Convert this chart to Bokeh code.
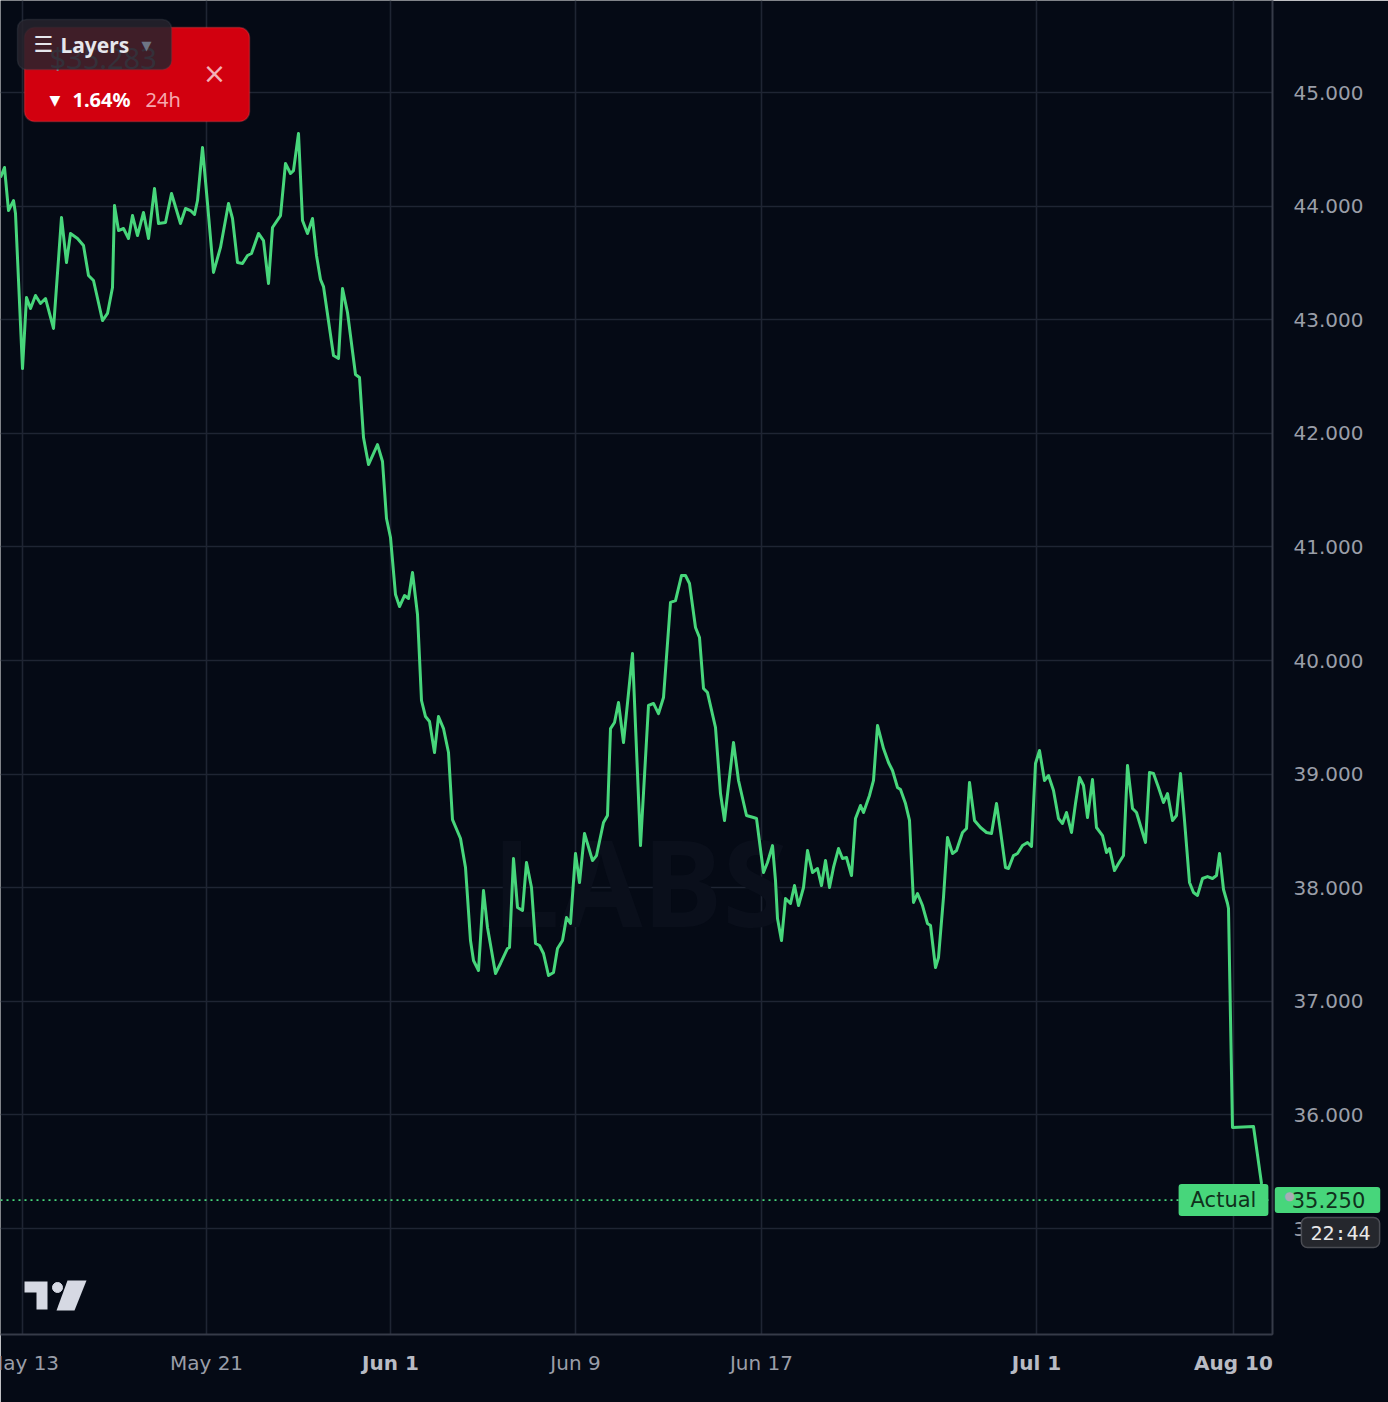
from bokeh.plotting import figure
from bokeh.models import Range1d, FixedTicker, Span, Label, BoxAnnotation
from bokeh.embed import file_html
from bokeh.resources import INLINE

# ---------------- data ----------------
bar = [0, 4, 8, 13, 15, 22, 26, 30, 35, 40, 45, 53, 61, 66, 70, 77, 83, 88, 93, 102,
       107, 112, 114, 118, 123, 128, 132, 137, 143, 148, 154, 158, 165, 171, 177, 180,
       185, 190, 194, 197, 202, 207, 213, 220, 228, 232, 237, 242, 247, 251, 258, 263,
       268, 272, 280, 285, 290, 293, 298, 302, 307, 312, 316, 320, 323, 333, 338, 342,
       347, 355, 359, 363, 368, 377, 382, 386, 390, 395, 399, 404, 408, 412, 417, 421,
       425, 429, 434, 438, 443, 448, 452, 460, 465, 470, 473, 478, 483, 487, 495, 500,
       507, 509, 513, 517, 522, 526, 531, 535, 539, 543, 548, 553, 557, 562, 566, 570,
       575, 579, 584, 592, 596, 603, 607, 610, 614, 618, 623, 632, 640, 648, 653, 658,
       663, 670, 675, 681, 685, 689, 695, 699, 703, 707, 715, 720, 724, 733, 738, 746,
       753, 756, 763, 767, 772, 775, 777, 781, 785, 790, 794, 798, 803, 807, 812, 817,
       821, 825, 829, 833, 838, 842, 846, 851, 855, 860, 863, 869, 873, 877, 883, 888,
       892, 897, 900, 905, 909, 913, 917, 922, 927, 930, 935, 938, 943, 947, 952, 956,
       962, 966, 969, 974, 980, 986, 991, 996, 1000, 1005, 1008, 1013, 1017, 1022, 1027,
       1031, 1035, 1039, 1044, 1048, 1053, 1058, 1062, 1066, 1071, 1075, 1079, 1083,
       1087, 1092, 1096, 1102, 1106, 1109, 1114, 1118, 1123, 1127, 1132, 1136, 1145,
       1149, 1153, 1158, 1163, 1167, 1172, 1176, 1180, 1184, 1189, 1193, 1197, 1202,
       1207, 1212, 1216, 1219, 1223, 1227, 1228, 1232, 1253, 1261, 1264]

price = [44252, 44340, 43961, 44049, 43935, 42570, 43196, 43099, 43213, 43143, 43187,
         42923, 43900, 43504, 43759, 43715, 43653, 43389, 43345, 42993, 43055, 43284,
         44005, 43785, 43803, 43715, 43917, 43741, 43944, 43715, 44155, 43847, 43856,
         44111, 43935, 43847, 43979, 43961, 43926, 44049, 44516, 44023, 43416, 43636,
         44023, 43891, 43504, 43495, 43565, 43583, 43759, 43697, 43319, 43812, 43917,
         44375, 44287, 44313, 44639, 43873, 43759, 43891, 43565, 43354, 43292, 42685,
         42659, 43275, 43063, 42518, 42491, 41963, 41725, 41901, 41752, 41250, 41083,
         40581, 40475, 40572, 40546, 40775, 40405, 39648, 39507, 39463, 39190, 39507,
         39401, 39190, 38600, 38433, 38178, 37535, 37359, 37271, 37975, 37650, 37245,
         37333, 37465, 37474, 38257, 37826, 37799, 38222, 38002, 37509, 37491, 37421,
         37227, 37254, 37465, 37535, 37738, 37685, 38301, 38046, 38477, 38239, 38283,
         38574, 38636, 39401, 39454, 39630, 39278, 40062, 38371, 39604, 39622, 39533,
         39674, 40511, 40528, 40748, 40748, 40678, 40291, 40202, 39754, 39718, 39410,
         38829, 38592, 39278, 38944, 38636, 38618, 38609, 38134, 38222, 38371, 38063,
         37729, 37535, 37905, 37861, 38019, 37843, 38002, 38327, 38134, 38169, 38019,
         38239, 38002, 38178, 38345, 38257, 38266, 38107, 38609, 38724, 38662, 38812,
         38944, 39428, 39225, 39102, 39032, 38882, 38864, 38741, 38592, 37870, 37949,
         37843, 37685, 37667, 37297, 37386, 37914, 38442, 38301, 38327, 38486, 38521,
         38926, 38592, 38530, 38486, 38477, 38741, 38500, 38178, 38169, 38283, 38301,
         38371, 38398, 38363, 39093, 39208, 38944, 38988, 38856, 38609, 38565, 38662,
         38486, 38741, 38970, 38900, 38618, 38952, 38530, 38459, 38310, 38345, 38151,
         38213, 38283, 39076, 38697, 38662, 38398, 39014, 39005, 38882, 38750, 38829,
         38592, 38636, 39005, 38592, 38046, 37958, 37932, 38081, 38098, 38081, 38107,
         38301, 37984, 37861, 37817, 35889, 35898, 35396, 35250]

tick_bars = [22, 206, 390, 575, 761, 1036, 1233]
tick_labels = ["May 13", "May 21", "Jun 1", "Jun 9", "Jun 17", "Jul 1", "Aug 10"]
tick_bold = [False, False, True, False, False, True, True]
price_ticks = [35000, 36000, 37000, 38000, 39000, 40000, 41000, 42000, 43000, 44000, 45000]
last_price = 35250
last_price_text = "35.250"
change_text = "1.64%"
period_text = "24h"
ticker_text = "$35.283"
clock_text = "22:44"

# ---------------- styling ----------------
BG = "#050a15"
GRID = "#1f2533"
AXIS = "#363b48"
GREEN = "#47d67b"
LABEL = "#9a9ea8"
FONT = "DejaVu Sans"

FW, FH = 1272, 1334
Y_TOP, Y_BOT = 45810, 34067


def X(px):
    return px * 1.0


def Y(py):
    return Y_TOP - py * (Y_TOP - Y_BOT) / FH


p = figure(frame_width=FW, frame_height=FH,
           x_range=Range1d(0, FW), y_range=Range1d(Y_BOT, Y_TOP),
           output_backend="svg", toolbar_location=None,
           y_axis_location="right",
           min_border_left=0, min_border_top=0,
           min_border_right=116, min_border_bottom=68,
           background_fill_color=BG, border_fill_color=BG,
           outline_line_color=None)

# axes
p.yaxis.ticker = FixedTicker(ticks=price_ticks)
p.yaxis.major_label_overrides = {t: f"{t // 1000}.{t % 1000:03d}" for t in price_ticks}
p.yaxis.major_tick_line_color = None
p.yaxis.minor_tick_line_color = None
p.yaxis.major_label_standoff = 15
p.yaxis.axis_line_color = AXIS
p.yaxis.axis_line_width = 2
p.yaxis.major_label_text_color = LABEL
p.yaxis.major_label_text_font = FONT
p.yaxis.major_label_text_font_size = "20px"

# first tick label is cut by the left edge and the month starts are bold:
# those are drawn as labels in the bottom panel, the rest by the axis itself
special = [i == 0 or bold for i, bold in enumerate(tick_bold)]
p.xaxis.ticker = FixedTicker(ticks=tick_bars)
p.xaxis.major_label_overrides = {b: ("" if sp else lab)
                                 for b, lab, sp in zip(tick_bars, tick_labels, special)}
p.xaxis.major_tick_line_color = None
p.xaxis.minor_tick_line_color = None
p.xaxis.major_label_standoff = 10
p.xaxis.axis_line_color = AXIS
p.xaxis.axis_line_width = 2
p.xaxis.major_label_text_color = LABEL
p.xaxis.major_label_text_font = FONT
p.xaxis.major_label_text_font_size = "20px"

p.xgrid.ticker = FixedTicker(ticks=tick_bars)
p.ygrid.ticker = FixedTicker(ticks=price_ticks)
for g in (p.xgrid, p.ygrid):
    g.grid_line_color = GRID
    g.grid_line_width = 1.6

for b, lab, bold, sp in zip(tick_bars, tick_labels, tick_bold, special):
    if sp:
        p.add_layout(Label(x=b, y=Y(1362), text=lab, text_align="center",
                           text_baseline="middle", text_font=FONT,
                           text_font_size="20px",
                           text_font_style="bold" if bold else "normal",
                           text_color="#b8bbc4" if bold else LABEL), "below")

# watermark
p.add_layout(Label(x=X(640), y=Y(880), text="LABS", text_align="center",
                   text_baseline="middle", text_font="Noto Sans", text_font_size="120px",
                   text_font_style="bold", text_color="#0a0f1b", level="underlay"))

# tradingview logo
p.patches(xs=[[X(24), X(47), X(47), X(36), X(36), X(24)],
              [X(67), X(86), X(74), X(56)]],
          ys=[[Y(1281), Y(1281), Y(1309), Y(1309), Y(1292), Y(1292)],
              [Y(1280), Y(1280), Y(1310), Y(1310)]],
          fill_color="#d6d9e3", line_color=None)
p.scatter(x=[X(57)], y=[Y(1287)], size=10, color="#d6d9e3")

# price line
p.line(bar, price, line_color=GREEN, line_width=3, line_join="round")
p.add_layout(Span(location=last_price, dimension="width", line_color=GREEN,
                  line_width=1.6, line_dash="2 4"))

# badges
p.add_layout(Label(x=X(1223), y=Y(1199.5), text="Actual", text_align="center",
                   text_baseline="middle", text_font=FONT, text_font_size="21px",
                   text_color="#10301c", background_fill_color=GREEN,
                   border_radius=3,
                   padding=dict(left=12, right=12, top=4, bottom=4)))
p.add_layout(Label(x=X(1327), y=Y(1199.5), text=last_price_text, text_align="center",
                   text_baseline="middle", text_font=FONT, text_font_size="21px",
                   text_color="#10301c", background_fill_color=GREEN,
                   border_radius=3,
                   padding=dict(left=17, right=15, top=5, bottom=5)), "right")
p.add_layout(Label(x=X(1289), y=Y(1195), text="●", text_align="center",
                   text_baseline="middle", text_font="DejaVu Sans",
                   text_font_size="12px", text_color="#a9acb5"), "right")
p.add_layout(Label(x=X(1340), y=Y(1232), text=clock_text, text_align="center",
                   text_baseline="middle", text_font="DejaVu Sans Mono",
                   text_font_size="20px", text_color="#e8e8e8",
                   background_fill_color="#25272d", border_line_color="#4a4c53",
                   border_line_width=1.5, border_radius=6,
                   padding=dict(left=9, right=9, top=3, bottom=3)), "right")

# red ticker card
p.add_layout(BoxAnnotation(left=X(24), right=X(249), top=Y(27), bottom=Y(121),
                           fill_color="#d2000f", fill_alpha=1.0,
                           line_color="#f0505a", line_width=1.5, border_radius=10))
p.add_layout(Label(x=X(49), y=Y(57), text=ticker_text, text_baseline="middle",
                   text_font="Noto Sans", text_font_size="29px", text_color="#8a7e88"))
p.add_layout(Label(x=X(49), y=Y(99), text="▼", text_baseline="middle",
                   text_font="DejaVu Sans", text_font_size="14px", text_color="#ffffff"))
p.add_layout(Label(x=X(72), y=Y(99), text=change_text, text_baseline="middle",
                   text_font="Noto Sans", text_font_size="20px", text_font_style="bold",
                   text_color="#ffffff"))
p.add_layout(Label(x=X(145), y=Y(99), text=period_text, text_baseline="middle",
                   text_font="Noto Sans", text_font_size="20px", text_color="#f6a8ae"))
p.add_layout(Label(x=X(214), y=Y(73), text="×", text_align="center",
                   text_baseline="middle", text_font="DejaVu Sans",
                   text_font_size="28px", text_color="#f3b1b6"))

# layers button
p.add_layout(BoxAnnotation(left=X(17), right=X(171), top=Y(19), bottom=Y(69),
                           fill_color="#26232c", fill_alpha=0.86,
                           line_color="#474b57", line_width=1.5, border_radius=9))
p.add_layout(Label(x=X(33), y=Y(44), text="☰", text_baseline="middle",
                   text_font="DejaVu Sans", text_font_size="22px", text_color="#e6e6ec"))
p.add_layout(Label(x=X(60), y=Y(44), text="Layers", text_baseline="middle",
                   text_font="Noto Sans", text_font_size="21px", text_font_style="bold",
                   text_color="#e6e6ec"))
p.add_layout(Label(x=X(141), y=Y(45), text="▼", text_baseline="middle",
                   text_font="DejaVu Sans", text_font_size="13px", text_color="#6e7585"))

open("out.html", "w").write(file_html(p, INLINE))
